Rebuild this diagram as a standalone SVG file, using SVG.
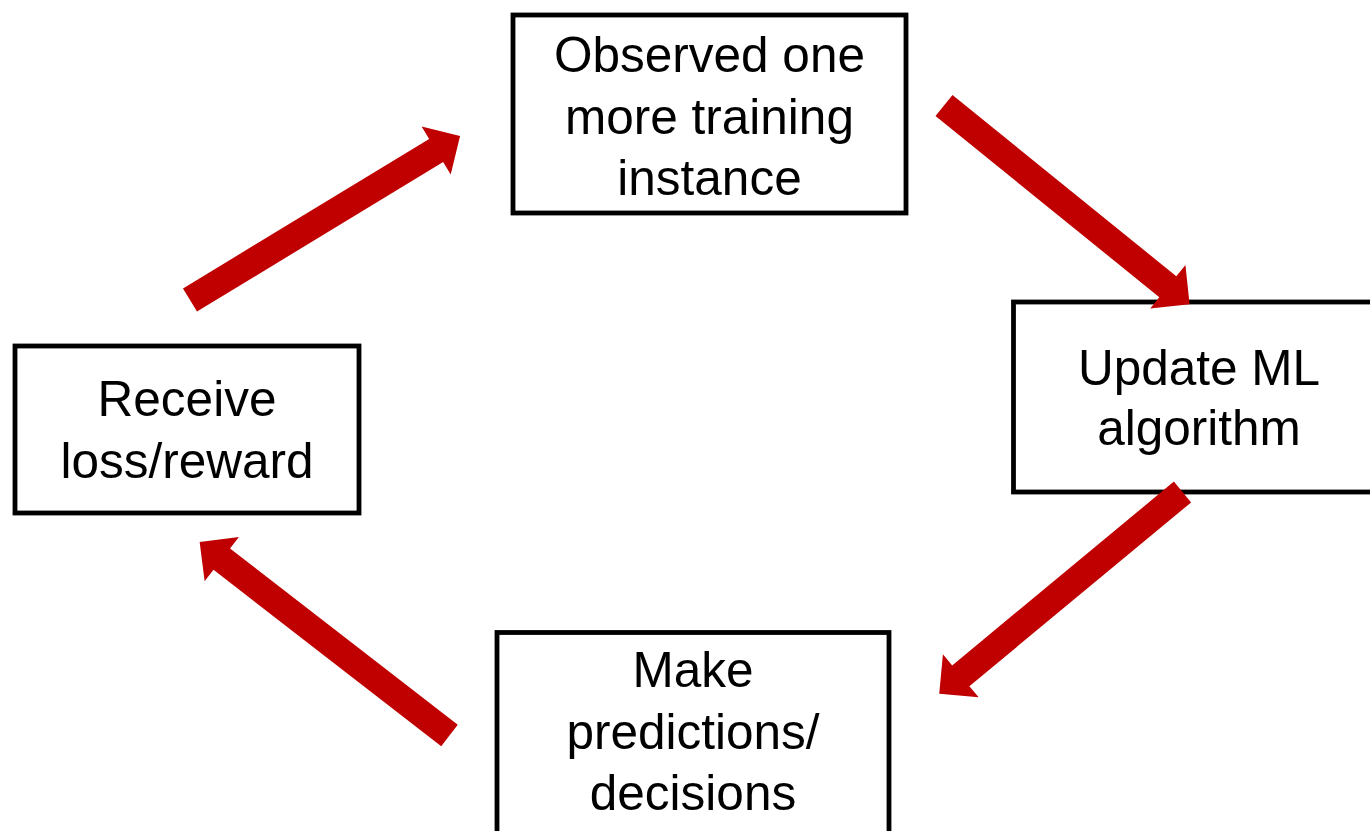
<svg xmlns="http://www.w3.org/2000/svg" xmlns:xlink="http://www.w3.org/1999/xlink" width="1370" height="831" viewBox="0 0 1370 831">
  <style>
    .box { fill: #ffffff; stroke: #000000; stroke-width: 4.8; }
    .lbl { font-family: "Liberation Sans", Arial, sans-serif; font-size: 49.5px; fill: #000000; text-anchor: middle; }
    .arrow { fill: #c00000; }
  </style>
  <defs>
    <path id="fatArrow" class="arrow" d="M0,-13.5 L288,-13.5 L288,-28 L316,0 L288,28 L288,13.5 L0,13.5 Z"/>
  </defs>
  <rect width="1370" height="831" fill="#ffffff"/>
  <g id="node-observed">
    <rect class="box" x="513" y="15" width="393" height="198"/>
    <text class="lbl" x="709.5" y="72">Observed one</text>
    <text class="lbl" x="709.5" y="133.5">more training</text>
    <text class="lbl" x="709.5" y="195">instance</text>
  </g>
  <g id="node-update">
    <rect class="box" x="1013.5" y="302" width="400" height="190"/>
    <text class="lbl" x="1199" y="384.5">Update ML</text>
    <text class="lbl" x="1199" y="445">algorithm</text>
  </g>
  <g id="node-predict">
    <rect class="box" x="497" y="632.5" width="392" height="250"/>
    <text class="lbl" x="693" y="687">Make</text>
    <text class="lbl" x="693" y="748.5">predictions/</text>
    <text class="lbl" x="693" y="810">decisions</text>
  </g>
  <g id="node-receive">
    <rect class="box" x="15" y="346" width="344" height="167"/>
    <text class="lbl" x="187" y="416">Receive</text>
    <text class="lbl" x="187" y="478">loss/reward</text>
  </g>
  <g id="connectors">
    <use xlink:href="#fatArrow" href="#fatArrow" transform="translate(190,300) rotate(-31.27)"/>
    <use xlink:href="#fatArrow" href="#fatArrow" transform="translate(944,105.5) rotate(39.0)"/>
    <use xlink:href="#fatArrow" href="#fatArrow" transform="translate(1182.5,492) rotate(140.34)"/>
    <use xlink:href="#fatArrow" href="#fatArrow" transform="translate(449.5,735.5) rotate(-142.25)"/>
  </g>
</svg>
